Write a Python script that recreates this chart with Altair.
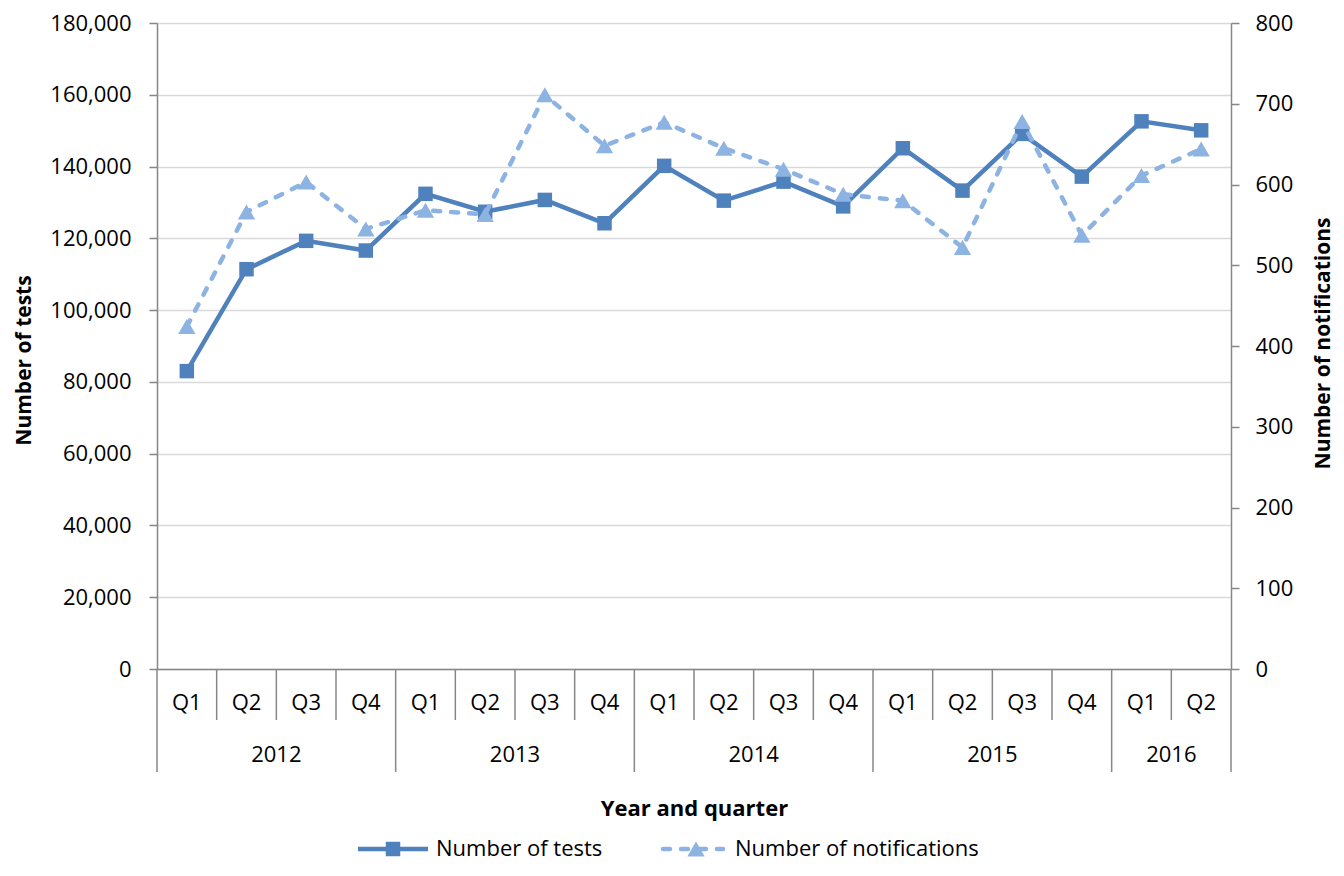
import altair as alt
import pandas as pd

# ---- data ----
years = ["2012"] * 4 + ["2013"] * 4 + ["2014"] * 4 + ["2015"] * 4 + ["2016"] * 2
quarters = ["Q1", "Q2", "Q3", "Q4"] * 4 + ["Q1", "Q2"]
tests = [83000, 111400, 119300, 116600, 132400, 127400, 130700, 124200,
         140200, 130500, 135800, 128900, 145100, 133300, 149100, 137200,
         152600, 150100]
notifications = [424, 566, 603, 545, 568, 563, 711, 648, 677, 645, 619, 588,
                 580, 522, 678, 537, 611, 644]
series_names = ["Number of tests", "Number of notifications"]
left_ticks = list(range(0, 180001, 20000))
right_ticks = list(range(0, 801, 100))

# ---- style ----
FONT = "Open Sans"
C_TESTS = "#4f81bd"
C_NOTIF = "#8db3e2"
AXIS_GRAY = "#868686"
W, H = 1074, 646
N = len(quarters)

df = pd.DataFrame({
    "pos": [i + 0.5 for i in range(N)],
    "quarter": quarters,
    "year": years,
    "tests": tests,
    "notifications": notifications,
})

# separators between categories
sep_minor = []
sep_major = []
for b in range(N + 1):
    if b == 0 or b == N or years[b] != years[b - 1]:
        sep_major.append(b)
    else:
        sep_minor.append(b)
df_minor = pd.DataFrame({"pos": sep_minor})
df_major = pd.DataFrame({"pos": sep_major})

# year label centres
yr_rows = []
for y in dict.fromkeys(years):
    idx = [i for i, v in enumerate(years) if v == y]
    yr_rows.append({"pos": (idx[0] + idx[-1] + 1) / 2, "year": y})
df_years = pd.DataFrame(yr_rows)

xscale = alt.Scale(domain=[0, N], nice=False, zero=False)
x_enc = alt.X("pos:Q", scale=xscale,
              axis=alt.Axis(domain=True, domainColor=AXIS_GRAY, domainWidth=1.5,
                            ticks=False, labels=False, grid=False,
                            title="Year and quarter", titleY=139,
                            titleBaseline="middle", titleFont=FONT,
                            titleFontSize=22, titleFontWeight="bold",
                            titleColor="black"))

y_left = alt.Y("tests:Q", scale=alt.Scale(domain=[0, 180000], nice=False),
               axis=alt.Axis(values=left_ticks, format=",.0f", grid=True,
                             gridColor="#d9d9d9", gridWidth=1.5,
                             tickSize=8, tickColor=AXIS_GRAY, tickWidth=1.5,
                             domainColor=AXIS_GRAY, domainWidth=1.5,
                             labelFont=FONT, labelFontSize=22, labelColor="black",
                             labelPadding=18,
                             title="Number of tests", titleFont=FONT,
                             titleFontSize=21, titleFontWeight="bold",
                             titleColor="black", titleAngle=270,
                             titleX=-133, titleY=337, titleAlign="center",
                             titleBaseline="middle"))
y_right = alt.Y("notifications:Q", scale=alt.Scale(domain=[0, 800], nice=False),
                axis=alt.Axis(orient="right", values=right_ticks, format=".0f",
                              grid=False,
                              tickSize=8, tickColor=AXIS_GRAY, tickWidth=1.5,
                              domainColor=AXIS_GRAY, domainWidth=1.5,
                              labelFont=FONT, labelFontSize=22, labelColor="black",
                              labelPadding=16,
                              title="Number of notifications", titleFont=FONT,
                              titleFontSize=21, titleFontWeight="bold",
                              titleColor="black", titleAngle=270,
                              titleX=92, titleY=320, titleAlign="center",
                              titleBaseline="middle"))

base = alt.Chart(df)
tests_layer = alt.layer(
    base.mark_line(color=C_TESTS, strokeWidth=4.5).encode(x=x_enc, y=y_left),
    base.mark_point(shape="square", filled=True, size=210, opacity=1,
                    color=C_TESTS).encode(x=x_enc, y=y_left),
)
notif_layer = alt.layer(
    base.mark_line(color=C_NOTIF, strokeWidth=4.5, strokeDash=[7, 11],
                   strokeCap="round").encode(x=x_enc, y=y_right),
    base.mark_point(shape="triangle-up", filled=True, size=300, opacity=1,
                    color=C_NOTIF).encode(x=x_enc, y=y_right),
)

minor_rules = alt.Chart(df_minor).mark_rule(color=AXIS_GRAY, strokeWidth=1.5).encode(
    x=x_enc, y=alt.value(H), y2=alt.value(H + 51))
major_rules = alt.Chart(df_major).mark_rule(color=AXIS_GRAY, strokeWidth=1.5).encode(
    x=x_enc, y=alt.value(H), y2=alt.value(H + 103))
q_text = base.mark_text(font=FONT, fontSize=22, color="black", baseline="middle").encode(
    x=x_enc, y=alt.value(H + 34), text="quarter:N")
yr_text = alt.Chart(df_years).mark_text(font=FONT, fontSize=22, color="black",
                                         baseline="middle").encode(
    x=x_enc, y=alt.value(H + 86), text="year:N")

# legend
leg = alt.Chart(pd.DataFrame({"name": series_names}))
LY = 826
legend = alt.layer(
    leg.transform_filter(alt.datum.name == series_names[0]).mark_rule(
        color=C_TESTS, strokeWidth=4.5).encode(
        x=alt.value(201), x2=alt.value(271), y=alt.value(LY)),
    leg.transform_filter(alt.datum.name == series_names[0]).mark_point(
        shape="square", filled=True, size=210, opacity=1, color=C_TESTS).encode(
        x=alt.value(236), y=alt.value(LY)),
    leg.transform_filter(alt.datum.name == series_names[0]).mark_text(
        font=FONT, fontSize=22, align="left", baseline="middle", color="black").encode(
        x=alt.value(279), y=alt.value(LY), text="name:N"),
    leg.transform_filter(alt.datum.name == series_names[1]).mark_rule(
        color=C_NOTIF, strokeWidth=4.5, strokeDash=[7, 11], strokeCap="round").encode(
        x=alt.value(506), x2=alt.value(566), y=alt.value(LY)),
    leg.transform_filter(alt.datum.name == series_names[1]).mark_point(
        shape="triangle-up", filled=True, size=300, opacity=1, color=C_NOTIF).encode(
        x=alt.value(539), y=alt.value(LY)),
    leg.transform_filter(alt.datum.name == series_names[1]).mark_text(
        font=FONT, fontSize=22, align="left", baseline="middle", color="black").encode(
        x=alt.value(578), y=alt.value(LY), text="name:N"),
)

chart = alt.layer(
    tests_layer, notif_layer, minor_rules, major_rules, q_text, yr_text, legend
).resolve_scale(y="independent").properties(
    width=W, height=H,
    autosize=alt.AutoSizeParams(type="none"),
    padding={"left": 149, "top": 15, "right": 104, "bottom": 192},
    background="white",
).configure_view(stroke=None)

chart.save("out.html", embed_options={"renderer": "svg", "actions": False})
